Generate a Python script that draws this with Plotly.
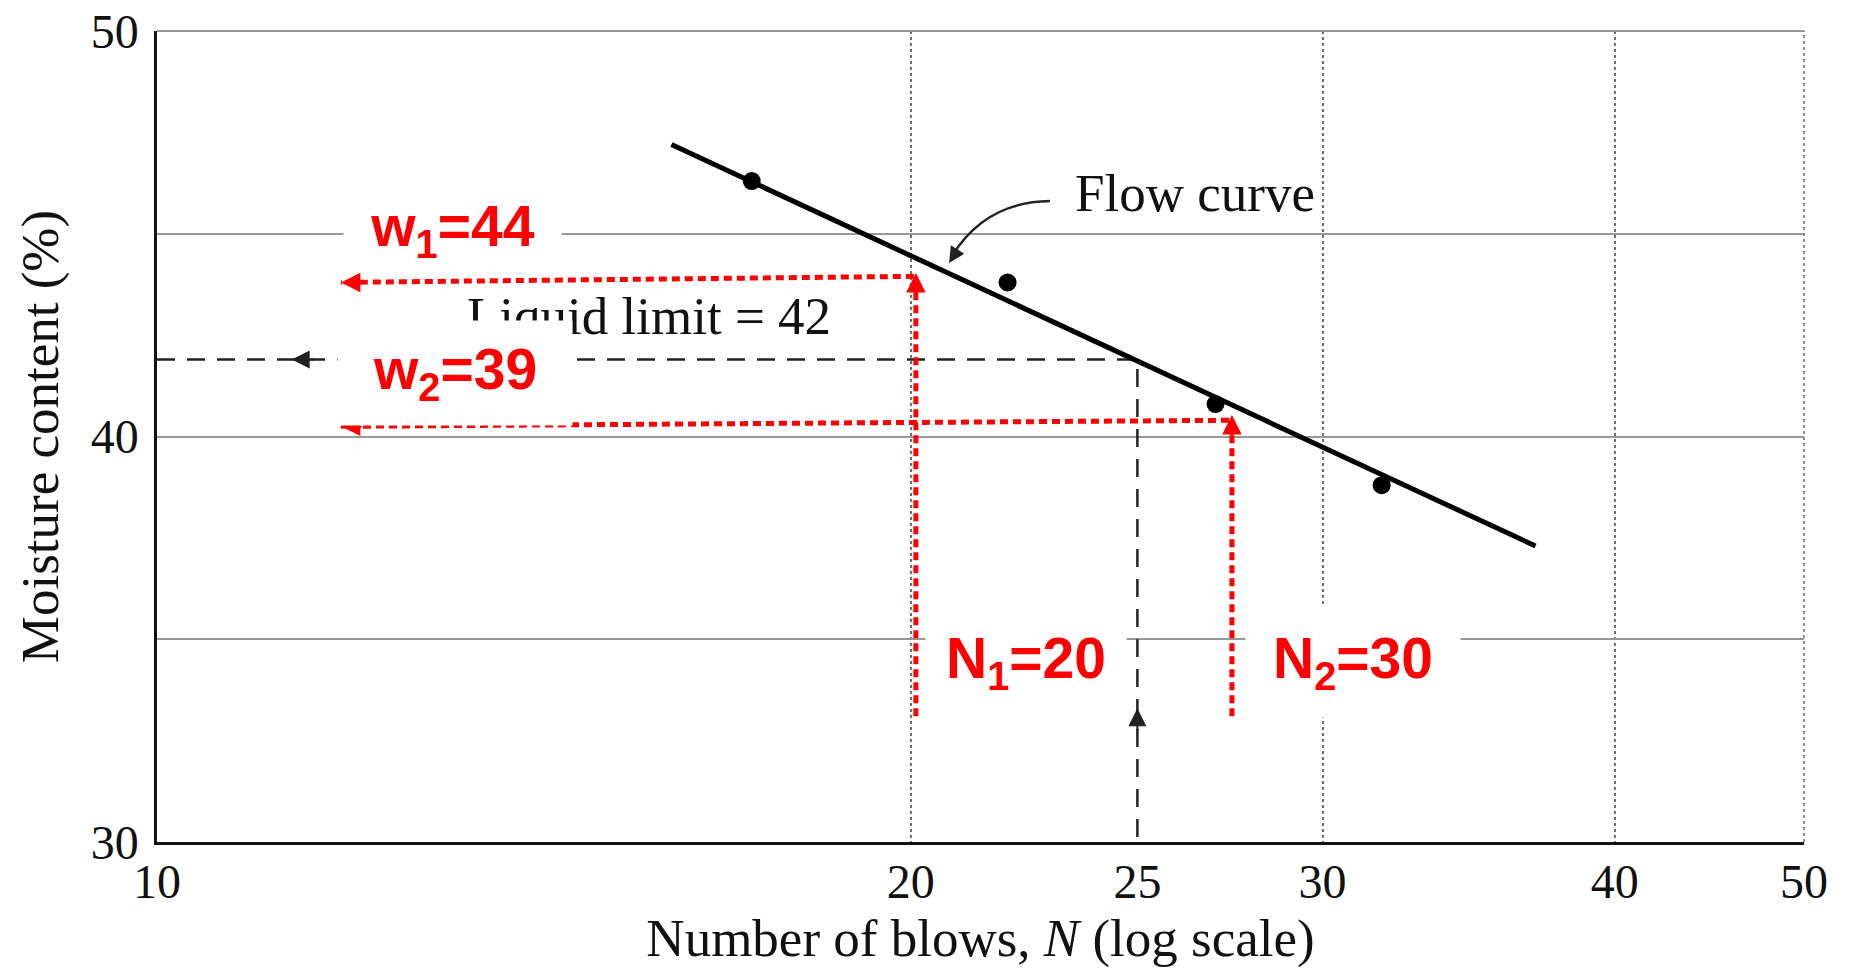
import numpy as np
import plotly.graph_objects as go

# x axis: the scanned frame puts "10" and "50" on the edges, interior ticks are true log
N_LEFT = 9.52
N_RIGHT = 48.2
x_tickvals = [N_LEFT, 20, 25, 30, 40, N_RIGHT]
x_ticktext = ["10", "20", "25", "30", "40", "50"]
x_gridvals = [20, 30, 40]
y_tickvals = [30, 35, 40, 45, 50]
y_ticktext = ["30", "", "40", "", "50"]

# test points
blows = [17.1, 22.0, 27.0, 31.8]
moisture = [46.3, 43.8, 40.8, 38.8]

# flow curve ends
flow_N = [15.8, 37.0]
flow_w = [47.2, 37.3]

# liquid limit read at N = 25
ll_N = 25
ll_w = 41.9
ll_arrow = [10.87, 33.3]   # N of left arrow tip, w of upward arrow tip

# red construction lines
n1, n2 = 20.1, 27.44
w1_line = [43.95, 43.8]    # right end, left end
w2_line = [40.4, 40.25]
n_bottom = 33.1
n_tips = [44.03, 40.53]
w_tip_N = 11.41

SERIF = "Liberation Serif"
SANS = "Liberation Sans"
RED = "#ff0000"

# figure pixel -> paper helpers (plot area 157..1804 x 31..842)
def fx(p):
    return (p - 157) / 1647

def fy(p):
    return (842 - p) / 811

fig = go.Figure()

# liquid limit dashed construction
fig.add_trace(go.Scatter(
    x=[N_LEFT, ll_N, ll_N], y=[ll_w, ll_w, 30],
    mode="lines", line=dict(color="#222", width=2.5, dash="18px,12px"),
    hoverinfo="skip"))

# red dotted lines
fig.add_trace(go.Scatter(
    x=[n1, n1, w_tip_N], y=[n_bottom, w1_line[0], w1_line[1]],
    mode="lines", line=dict(color=RED, width=5, dash="8px,5px"), hoverinfo="skip"))
fig.add_trace(go.Scatter(
    x=[n2, n2, w_tip_N], y=[n_bottom, w2_line[0], w2_line[1]],
    mode="lines", line=dict(color=RED, width=5, dash="8px,5px"), hoverinfo="skip"))

# flow curve and points
fig.add_trace(go.Scatter(
    x=flow_N, y=flow_w, mode="lines",
    line=dict(color="black", width=5)))
fig.add_trace(go.Scatter(
    x=blows, y=moisture, mode="markers",
    marker=dict(color="black", size=18)))

ann = []

# arrowheads
def head(xv, yv, ax, ay, color, w, s):
    return dict(x=np.log10(xv), y=yv, xref="x", yref="y", text="", showarrow=True,
                arrowhead=2, arrowsize=s, arrowwidth=w, arrowcolor=color,
                ax=ax, ay=ay, standoff=0)

ann.append(head(ll_arrow[0], ll_w, 24, 0, "#222", 2, 1.8))
ann.append(head(ll_N, ll_arrow[1], 0, 24, "#222", 2, 1.8))
ann.append(head(w_tip_N, w1_line[1], 22, 0, RED, 3, 1.3))
ann.append(head(w_tip_N, w2_line[1], 22, 0, RED, 3, 1.3))
ann.append(head(n1, n_tips[0], 0, 22, RED, 3, 1.3))
ann.append(head(n2, n_tips[1], 0, 22, RED, 3, 1.3))

# texts from the original figure
ann.append(dict(x=fx(1195), y=fy(193), xref="paper", yref="paper", text="Flow curve",
                showarrow=False, font=dict(family=SERIF, size=53, color="#111"),
                xanchor="center", yanchor="middle"))
ann.append(dict(x=fx(949), y=fy(263), xref="paper", yref="paper", text="",
                showarrow=True, arrowhead=2, arrowsize=1.6, arrowwidth=2,
                arrowcolor="#222", ax=7, ay=-11, standoff=0))
ann.append(dict(x=fx(649), y=fy(316), xref="paper", yref="paper", text="Liquid limit = 42",
                showarrow=False, font=dict(family=SERIF, size=53, color="#111"),
                xanchor="center", yanchor="middle"))

# red labels on white boxes
def label(text, cx, cy, w, h):
    return dict(x=fx(cx), y=fy(cy), xref="paper", yref="paper", text="<b>" + text + "</b>",
                showarrow=False, font=dict(family=SANS, size=57, color=RED),
                bgcolor="white", width=w, height=h, borderpad=0,
                xanchor="center", yanchor="middle", align="center", valign="middle")

ann.append(label("w<sub>1</sub>=44", 452, 230, 217, 70))
ann.append(label("w<sub>2</sub>=39", 455, 373, 234, 104))
ann.append(label("N<sub>1</sub>=20", 1026, 662, 200, 110))
ann.append(label("N<sub>2</sub>=30", 1353, 662, 214, 110))

fig.update_layout(
    width=1854, height=975,
    margin=dict(l=157, r=50, t=31, b=133, autoexpand=False),
    paper_bgcolor="white", plot_bgcolor="white",
    showlegend=False,
    shapes=[
        # flow curve pointer
        dict(type="path", xref="paper", yref="paper",
             path=f"M {fx(1050)},{fy(201)} Q {fx(985)},{fy(202)} {fx(952)},{fy(256)}",
             line=dict(color="#222", width=2.5)),
        # upper and right frame edges (grid style)
        dict(type="line", xref="paper", yref="paper", x0=0, x1=1, y0=1, y1=1,
             line=dict(color="#999", width=2)),
        dict(type="line", xref="paper", yref="paper", x0=1, x1=1, y0=0, y1=1,
             line=dict(color="#6e6e6e", width=1.5, dash="dot")),
    ],
    annotations=ann,
    font=dict(family=SERIF, color="#111"),
)

fig.update_xaxes(
    type="log", range=[np.log10(N_LEFT), np.log10(N_RIGHT)],
    tickmode="array", tickvals=x_tickvals, ticktext=x_ticktext,
    tickfont=dict(family=SERIF, size=48, color="#111"),
    showgrid=False, zeroline=False, ticks="", ticklabelstandoff=-4,
    showline=True, linecolor="#111", linewidth=2.5, automargin=False,
    minor=dict(tickmode="array", tickvals=x_gridvals, showgrid=True,
               gridcolor="#6e6e6e", griddash="dot", gridwidth=1.5, ticks=""),
    title=dict(text="Number of blows, <i>N</i> (log scale)",
               font=dict(family=SERIF, size=53, color="#111"), standoff=12),
)
fig.update_yaxes(
    range=[30, 50], tickmode="array", tickvals=y_tickvals, ticktext=y_ticktext,
    tickfont=dict(family=SERIF, size=48, color="#111"),
    showgrid=True, gridcolor="#999", gridwidth=2, zeroline=False, ticks="",
    ticklabelstandoff=6, automargin=False,
    showline=True, linecolor="#111", linewidth=2.5,
    title=dict(text="Moisture content (%)",
               font=dict(family=SERIF, size=53, color="#111"), standoff=16),
)

fig.write_html("out.html", config={"displayModeBar": False},
               post_script="document.body.style.margin='0';document.body.style.overflow='hidden';")
